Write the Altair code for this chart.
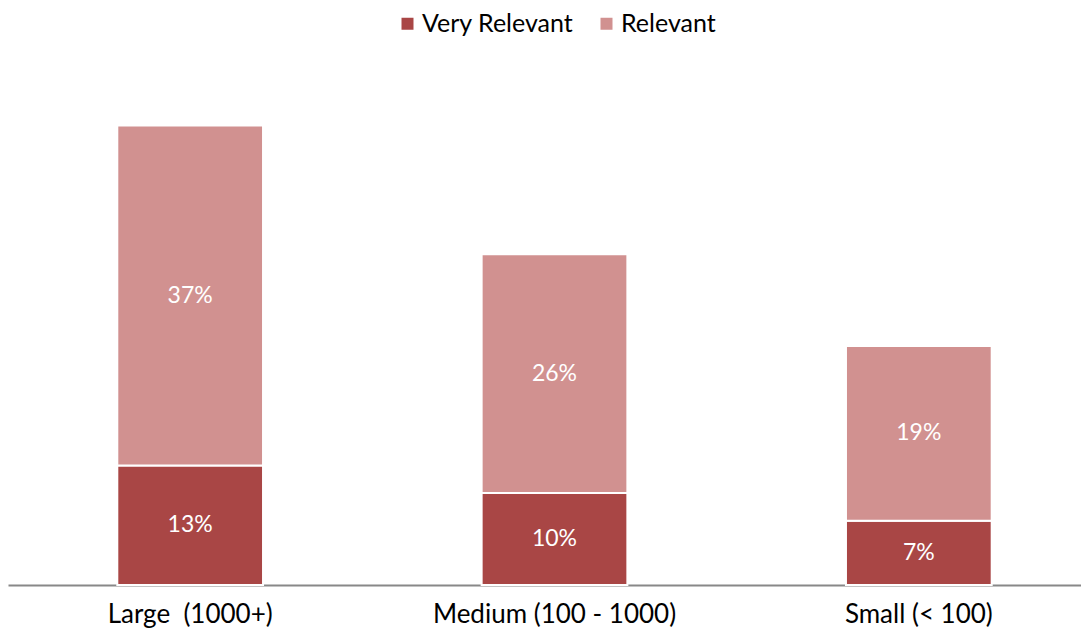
import altair as alt
import pandas as pd

categories = ["Large \u00a0(1000+)", "Medium (100 - 1000)", "Small (< 100)"]
very_relevant = [0.13, 0.10, 0.07]
relevant = [0.37, 0.26, 0.19]
series = ["Very Relevant", "Relevant"]
colors = ["#A94645", "#D19190"]

rows = []
for i, c in enumerate(categories):
    rows.append({"cat": c, "series": series[0], "ord": 0, "v": very_relevant[i]})
    rows.append({"cat": c, "series": series[1], "ord": 1, "v": relevant[i]})
df = pd.DataFrame(rows)

FONT = "Lato"

base = alt.Chart(df).transform_stack(
    stack="v", groupby=["cat"], sort=[alt.SortField("ord")], as_=["y0", "y1"]
).transform_calculate(mid="(datum.y0 + datum.y1) / 2")

x = alt.X("cat:N", sort=categories, title=None,
          scale=alt.Scale(paddingInner=0.6, paddingOuter=0.3, range=[0, 1093]),
          axis=alt.Axis(labelAngle=0, ticks=False, labelPadding=16, labelFontSize=26,
                        labelFont=FONT, labelColor="#000000", domainColor="#888888",
                        domainWidth=2, grid=False, labelLimit=0))

bars = base.mark_bar(stroke="white", strokeWidth=2).encode(
    x=x,
    y=alt.Y("y0:Q", scale=alt.Scale(domain=[0, 0.628], nice=False), axis=None),
    y2="y1:Q",
    color=alt.Color("series:N", sort=series,
                    scale=alt.Scale(domain=series, range=colors),
                    legend=alt.Legend(title=None, orient="none", direction="horizontal",
                                      legendX=387, legendY=3, symbolType="square",
                                      symbolSize=144, symbolStrokeWidth=0,
                                      labelFont=FONT, labelFontSize=25, labelColor="#000000",
                                      labelOffset=2, columnPadding=20, padding=0, labelLimit=0)),
)

labels = base.mark_text(color="white", font=FONT, fontSize=23).encode(
    x=alt.X("cat:N", sort=categories),
    y=alt.Y("mid:Q"),
    text=alt.Text("v:Q", format=".0%"),
)

chart = (bars + labels).properties(
    width=1073, height=577,
    padding={"left": 0, "top": 0, "right": 0, "bottom": 46},
    autosize=alt.AutoSizeParams(type="none"),
).configure_view(stroke=None)

chart.save("out.html", embed_options={"renderer": "svg", "actions": False})
